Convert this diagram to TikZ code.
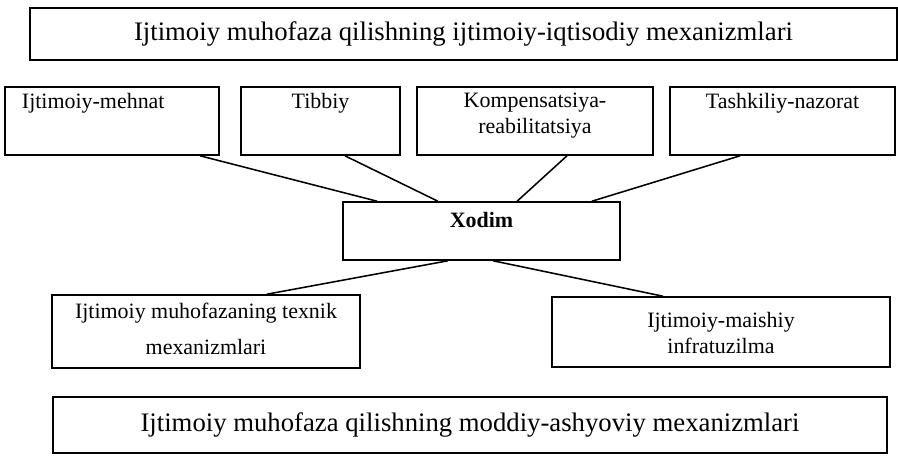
\documentclass[tikz,border=0pt]{standalone}
\usepackage{fontspec}
\setmainfont{Liberation Serif}
\usetikzlibrary{positioning}

\begin{document}
\begin{tikzpicture}[
  x=0.025cm, y=-0.025cm,
  every node/.style={draw, rectangle, align=center, line width=1.1pt,
                     font=\fontsize{15.6}{17.8}\selectfont},
  big/.style={font=\fontsize{19}{22}\selectfont, inner sep=0pt},
  toprow/.style={inner ysep=0pt, minimum height=1.7cm,
                 text height=0.55cm, text depth=1.15cm},
  link/.style={line width=1.1pt}
]
\useasboundingbox (0,0) rectangle (898,459);

% MECHANISM FRAMES
\node (socec) [big, minimum width=21.675cm, minimum height=1.3cm] at (463.5,34)
      {Ijtimoiy muhofaza qilishning ijtimoiy-iqtisodiy mexanizmlari};
\node (matr)  [big, minimum width=20.85cm, minimum height=1.4cm] at (470,425)
      {Ijtimoiy muhofaza qilishning moddiy-ashyoviy mexanizmlari};

% UPPER ROW
\node (mehnat) [toprow, inner xsep=0.425cm, text width=4.5cm, align=left] at (112,121)
      {Ijtimoiy-mehnat};
\node (tibbiy) [toprow, minimum width=3.975cm] at (320.5,121) {Tibbiy};
\node (komp)   [toprow, minimum width=5.9cm, text height=1.15cm, text depth=0.55cm]
      at (535,121) {Kompensatsiya-\\reabilitatsiya};
\node (nazorat)[toprow, minimum width=5.625cm] at (782.5,121) {Tashkiliy-nazorat};

% CENTRE
\node (xodim) [inner ysep=0pt, minimum width=6.925cm, minimum height=1.45cm,
               text height=0.625cm, text depth=0.825cm, font=\fontsize{15.6}{17.8}\selectfont\bfseries]
      at (481.5,231) {Xodim};

% LOWER ROW
\node (texnik) [inner ysep=0pt, minimum width=7.7cm, minimum height=1.825cm,
                text height=1.475cm, text depth=0.35cm] at (206,331.5)
      {Ijtimoiy muhofazaning texnik\\[0.25cm]mexanizmlari};
\node (maishiy) [inner ysep=0pt, minimum width=8.45cm, minimum height=1.75cm,
                 text height=1.4cm, text depth=0.35cm] at (721,332)
      {Ijtimoiy-maishiy\\infratuzilma};

\draw[link] ([xshift=2.2cm]mehnat.south)   -- ([xshift=-2.61cm]xodim.north);
\draw[link] ([xshift=0.61cm]tibbiy.south)  -- ([xshift=-1.09cm]xodim.north);
\draw[link] ([xshift=0.8cm]komp.south)     -- ([xshift=0.89cm]xodim.north);
\draw[link] ([xshift=-1.06cm]nazorat.south)-- ([xshift=2.76cm]xodim.north);
\draw[link] ([xshift=-0.84cm]xodim.south)  -- ([xshift=1.52cm]texnik.north);
\draw[link] ([xshift=0.29cm]xodim.south)   -- ([xshift=-1.45cm]maishiy.north);
\end{tikzpicture}
\end{document}
